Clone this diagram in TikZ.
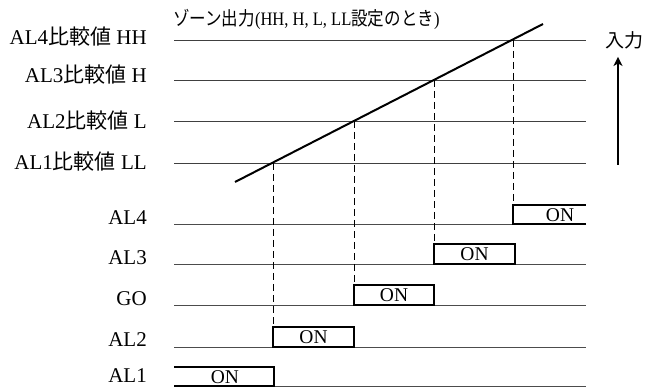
\documentclass[tikz,border=0pt]{standalone}
\usepackage{fontspec}
\setmainfont{Liberation Serif}
\newfontfamily\jp{Noto Sans CJK JP}
\usetikzlibrary{positioning,arrows.meta}

\begin{document}
\begin{tikzpicture}[x=1pt,y=-1pt]
      \tikzstyle{level}=[draw=black!75, line width=0.8pt]
      \tikzstyle{base}=[draw=black!70, line width=0.8pt]
      \tikzstyle{rise}=[draw=black, line width=2pt]
      \tikzstyle{drop}=[draw=black, line width=0.9pt, dash pattern=on 7pt off 4pt]
      \tikzstyle{onbox}=[rectangle, draw=black, line width=2pt, outer sep=0pt, inner sep=0pt, minimum height=20pt, anchor=south west, font=\fontsize{19.5}{19.5}\selectfont]
      \tikzstyle{ontext}=[inner sep=0pt, font=\fontsize{19.5}{19.5}\selectfont]
      \tikzstyle{label}=[anchor=east, inner sep=0pt, font=\fontsize{21}{21}\selectfont]

      \useasboundingbox (0,0) rectangle (645,387);

      % edges of the chart
      \coordinate (left) at (174,0);
      \coordinate (right) at (586,0);

      % crossing points
      \coordinate (s0) at (235,182);
      \coordinate (c1) at (273,163);
      \coordinate (c2) at (354,121);
      \coordinate (c3) at (434,80);
      \coordinate (c4) at (513,40);
      \coordinate (s5) at (543,24);

      % output rows
      \coordinate (r4) at (174,224);
      \coordinate (r3) at (174,264);
      \coordinate (rg) at (174,305);
      \coordinate (r2) at (174,347);
      \coordinate (r1) at (174,386);

      % labels
      \node[label] (hh) at (147,37) {AL4{\jp 比較値} HH};
      \node[label] (h) at (147,75) {AL3{\jp 比較値} H};
      \node[label] (l) at (147,121) {AL2{\jp 比較値} L};
      \node[label] (ll) at (147,162) {AL1{\jp 比較値} LL};
      \node[label] (al4) at (147,218) {AL4};
      \node[label] (al3) at (147,258) {AL3};
      \node[label] (go) at (147,299) {GO};
      \node[label] (al2) at (147,340) {AL2};
      \node[label] (al1) at (147,376) {AL1};

      \node[anchor=west, inner sep=0pt, font=\fontsize{19}{19}\selectfont] (title) at (173,19) {\scalebox{0.87}[1]{{\jp ゾーン出力}(HH, H, L, LL{\jp 設定のとき})}};
      \node[anchor=west, inner sep=0pt, font=\jp\fontsize{19}{19}\selectfont] (input) at (605,40) {入力};

      % thresholds
      \draw[level] (left |- c4) -- (right |- c4);
      \draw[level] (left |- c3) -- (right |- c3);
      \draw[level] (left |- c2) -- (right |- c2);
      \draw[level] (left |- c1) -- (right |- c1);
      \draw[rise] (s0) -- (s5);

      % outputs
      \draw[base] (r4) -- (right |- r4);
      \draw[base] (r3) -- (right |- r3);
      \draw[base] (rg) -- (right |- rg);
      \draw[base] (r2) -- (right |- r2);
      \draw[base] (r1) -- (right |- r1);

      \node[onbox, minimum width=81pt] (on2) at (c1 |- r2) {ON};
      \node[onbox, minimum width=80pt] (ong) at (c2 |- rg) {ON};
      \node[onbox, minimum width=81pt] (on3) at (c3 |- r3) {ON};

      \coordinate (t4) at (513,205);
      \coordinate (t1) at (274,367);
      \draw[rise] (right |- r4) -- (c4 |- r4) -- (t4) -- (right |- t4);
      \draw[rise] (left |- t1) -- (t1) -- (t1 |- r1) -- (r1);
      \node[ontext] (on4) at (560,215) {ON};
      \node[ontext] (on1) at (225,377) {ON};

      \draw[drop] (c1) -- (on2.north west);
      \draw[drop] (c2) -- (ong.north west);
      \draw[drop] (c3) -- (on3.north west);
      \draw[drop] (c4) -- (t4);

      \coordinate (a0) at (618,165);
      \draw[line width=2.4pt, -{Stealth[length=9pt,width=9pt,inset=2.5pt]}] (a0) -- ([yshift=-8pt]input.south -| a0);

    \end{tikzpicture}
\end{document}
